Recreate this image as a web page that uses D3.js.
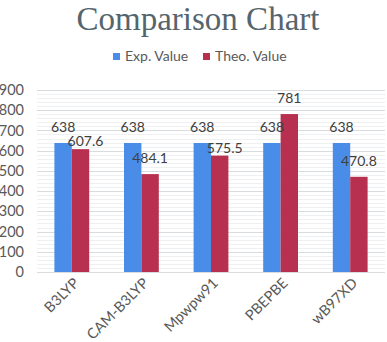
<!DOCTYPE html>
<html>
<head>
<meta charset="utf-8">
<script src="https://cdn.jsdelivr.net/npm/d3@7"></script>
<style>
  body { margin: 0; background: #fff; }
  text { font-family: Lato, "Liberation Sans", sans-serif; }
</style>
</head>
<body>
<svg id="chart" width="387" height="342"></svg>
<script>
const categories = ['B3LYP', 'CAM-B3LYP', 'Mpwpw91', 'PBEPBE', 'wB97XD'];
const seriesNames = ['Exp. Value', 'Theo. Value'];
const expValues = [638, 638, 638, 638, 638];
const theoValues = [607.6, 484.1, 575.5, 781, 470.8];
const yTicks = [0, 100, 200, 300, 400, 500, 600, 700, 800, 900];

const colors = ['#4a8de8', '#b8304f'];
const w = 387, h = 342;
const margin = { top: 90, right: 2, bottom: 70, left: 37 };

const svg = d3.select('#chart');

// title
svg.append('text')
  .attr('x', 198)
  .attr('y', 30)
  .attr('text-anchor', 'middle')
  .style('font-family', '"Liberation Serif", "DejaVu Serif", serif')
  .style('font-size', '33px')
  .style('fill', '#56656d')
  .text('Comparison Chart');

// legend
const legendX = [113, 203];
const legend = svg.append('g');
seriesNames.forEach((name, i) => {
  legend.append('rect')
    .attr('x', legendX[i])
    .attr('y', 53)
    .attr('width', 7)
    .attr('height', 7)
    .attr('fill', colors[i]);
  legend.append('text')
    .attr('x', legendX[i] + 12)
    .attr('y', 61)
    .style('font-size', '14px')
    .style('fill', '#595959')
    .text(name);
});

const x = d3.scaleBand()
  .domain(categories)
  .range([margin.left, w - margin.right]);

const y = d3.scaleLinear()
  .domain([0, 900])
  .range([h - margin.bottom, margin.top]);

const x1 = d3.scaleBand()
  .domain(seriesNames)
  .range([x.bandwidth() * 0.25, x.bandwidth() * 0.75]);

// minor gridlines
svg.append('g')
  .selectAll('line')
  .data(d3.range(0, 900, 20).filter(v => v % 100 !== 0))
  .enter()
  .append('line')
  .attr('x1', margin.left)
  .attr('x2', w - margin.right)
  .attr('y1', d => Math.round(y(d)) + 0.5)
  .attr('y2', d => Math.round(y(d)) + 0.5)
  .attr('stroke', '#eef0f2')
  .attr('stroke-width', 1);

// major gridlines
svg.append('g')
  .selectAll('line')
  .data(yTicks)
  .enter()
  .append('line')
  .attr('x1', margin.left)
  .attr('x2', w - margin.right)
  .attr('y1', d => Math.round(y(d)) + 0.5)
  .attr('y2', d => Math.round(y(d)) + 0.5)
  .attr('stroke', '#d9dcdf')
  .attr('stroke-width', 1);

// y axis labels
const yAxis = svg.append('g')
  .attr('transform', `translate(${margin.left - 13},0)`)
  .call(d3.axisLeft(y).tickValues(yTicks).tickSize(0).tickPadding(0));
yAxis.select('.domain').remove();
yAxis.selectAll('text')
  .style('font-family', 'Lato, "Liberation Sans", sans-serif')
  .style('font-size', '14.5px')
  .style('fill', '#595959');

// bars
const rows = categories.map((c, i) => ({
  cat: c,
  vals: [expValues[i], theoValues[i]],
}));

const groups = svg.append('g')
  .selectAll('g.group')
  .data(rows)
  .enter()
  .append('g')
  .attr('class', 'group')
  .attr('transform', d => `translate(${x(d.cat)},0)`);

groups.selectAll('rect')
  .data(d => d.vals.map((v, i) => ({ v, i })))
  .enter()
  .append('rect')
  .attr('x', d => x1(seriesNames[d.i]))
  .attr('y', d => y(d.v))
  .attr('width', x1.bandwidth())
  .attr('height', d => y(0) - y(d.v))
  .attr('fill', d => colors[d.i]);

// data labels, red ones nudged when close to the blue label
groups.each(function(row) {
  const g = d3.select(this);
  row.vals.forEach((v, i) => {
    const crowded = i === 1 && Math.abs(row.vals[1] - row.vals[0]) < 80;
    g.append('text')
      .attr('x', x1(seriesNames[i]) + x1.bandwidth() / 2 + (crowded ? 5 : 0))
      .attr('y', y(v) - (crowded ? 3 : 11))
      .attr('text-anchor', 'middle')
      .style('font-size', '14px')
      .style('fill', '#404040')
      .text(v);
  });
});

// x labels
svg.append('g')
  .selectAll('text')
  .data(categories)
  .enter()
  .append('text')
  .attr('transform', d => `translate(${x(d) + x.bandwidth() / 2 + 8},${h - margin.bottom + 12}) rotate(-45)`)
  .attr('text-anchor', 'end')
  .style('font-size', '14.5px')
  .style('fill', '#595959')
  .text(d => d);
</script>
</body>
</html>
